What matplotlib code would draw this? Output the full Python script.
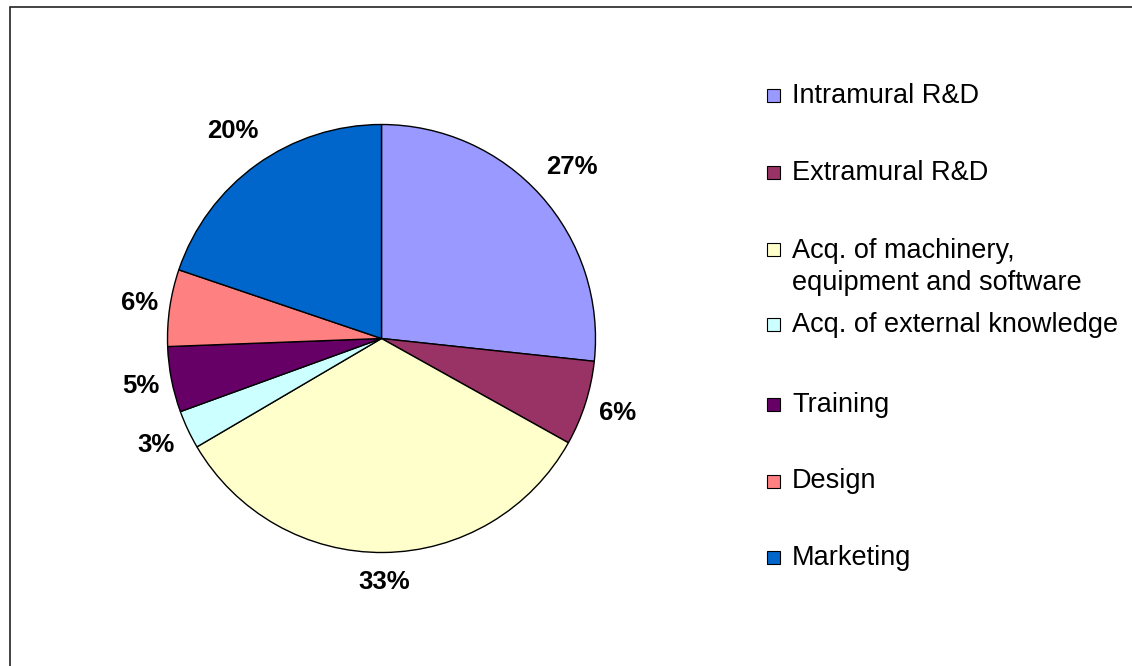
import numpy as np
import matplotlib.pyplot as plt
from matplotlib.patches import Rectangle

plt.rcParams['font.family'] = ['Liberation Sans', 'DejaVu Sans']

labels = ["Intramural R&D", "Extramural R&D", "Acq. of machinery,\nequipment and software",
          "Acq. of external knowledge", "Training", "Design", "Marketing"]
shares = [26.7, 6.4, 33.45, 2.9, 4.95, 5.8, 19.8]
colors = ["#9999FF", "#993366", "#FFFFCC", "#CCFFFF", "#660066", "#FF8080", "#0066CC"]

W, H = 1132, 666
fig = plt.figure(figsize=(W / 100, H / 100), dpi=100)

# outer chart frame (right and bottom edges run off the image)
fig.patches.append(Rectangle((10 / W, -0.05), 1.2, 1 - 7.5 / H + 0.05,
                             transform=fig.transFigure, fill=False,
                             edgecolor="#222222", linewidth=1.2))

cx, cy, r = 381.5, 338.5, 214
ax = fig.add_axes([(cx - r) / W, (H - cy - r) / H, 2 * r / W, 2 * r / H])
wedges, texts, autotexts = ax.pie(
    shares, colors=colors, startangle=90, counterclock=False,
    autopct="%.0f%%", pctdistance=1.17,
    wedgeprops=dict(edgecolor="black", linewidth=1.0))
ax.set_xlim(-1, 1)
ax.set_ylim(-1, 1)
ax.set_aspect("equal")
ax.axis("off")

# push each label just outside the rim, like Excel's "best fit"
renderer = fig.canvas.get_renderer()
for w, t in zip(wedges, autotexts):
    t.set_fontsize(18.5)
    t.set_fontweight("bold")
    bb = t.get_window_extent(renderer).transformed(ax.transData.inverted())
    hw = bb.width / 2
    hh = bb.height / 2 + 0.037
    th = np.deg2rad((w.theta1 + w.theta2) / 2)
    d = 1.045 + hw * abs(np.cos(th)) + hh * abs(np.sin(th))
    t.set_position((d * np.cos(th), d * np.sin(th)))

# legend, placed like the spreadsheet one (baselines in pixels)
row_base = [103, 180, 257.5, 332, 411.5, 488.5, 565]
for lab, col, yb in zip(labels, colors, row_base):
    fig.patches.append(Rectangle((767 / W, 1 - (yb - 1) / H), 13 / W, 13 / H,
                                 transform=fig.transFigure, facecolor=col,
                                 edgecolor="black", linewidth=0.8))
    # va="baseline" sits on the last line, so shift multi-line labels down
    yt = yb + 32.5 * lab.count("\n")
    fig.text(792 / W, 1 - yt / H, lab, fontsize=19.5, va="baseline", ha="left",
             linespacing=1.32)

fig.savefig("out.png", dpi=100)
